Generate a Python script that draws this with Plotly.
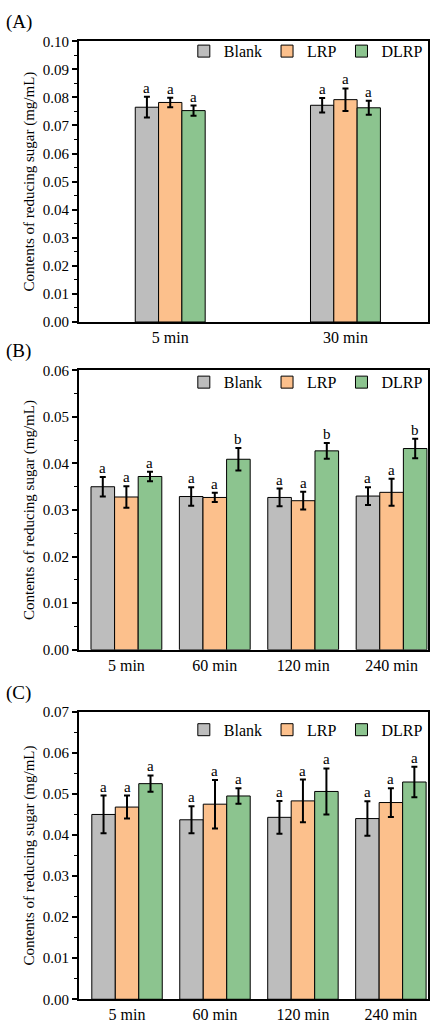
import plotly.graph_objects as go

groups = ["Blank", "LRP", "DLRP"]
colors = ["#bdbdbd", "#fcc08c", "#8cc48f"]

# (A)
times_a = ["5 min", "30 min"]
blank_a = [0.0765, 0.0772]
blank_a_err = [0.0037, 0.0026]
lrp_a = [0.0782, 0.0792]
lrp_a_err = [0.0017, 0.0040]
dlrp_a = [0.0753, 0.0763]
dlrp_a_err = [0.0018, 0.0025]
letters_a = [["a", "a"], ["a", "a"], ["a", "a"]]

# (B)
times_b = ["5 min", "60 min", "120 min", "240 min"]
blank_b = [0.0350, 0.0329, 0.0327, 0.0330]
blank_b_err = [0.0021, 0.0020, 0.0019, 0.0019]
lrp_b = [0.0328, 0.0327, 0.0320, 0.0338]
lrp_b_err = [0.0023, 0.0010, 0.0019, 0.0029]
dlrp_b = [0.0372, 0.0409, 0.0427, 0.0432]
dlrp_b_err = [0.0010, 0.0024, 0.0017, 0.0021]
letters_b = [["a", "a", "a", "a"], ["a", "a", "a", "a"], ["a", "b", "b", "b"]]

# (C)
times_c = ["5 min", "60 min", "120 min", "240 min"]
blank_c = [0.0450, 0.0437, 0.0443, 0.0440]
blank_c_err = [0.0046, 0.0033, 0.0040, 0.0042]
lrp_c = [0.0468, 0.0475, 0.0483, 0.0479]
lrp_c_err = [0.0028, 0.0059, 0.0052, 0.0035]
dlrp_c = [0.0525, 0.0495, 0.0506, 0.0529]
dlrp_c_err = [0.0020, 0.0019, 0.0056, 0.0037]
letters_c = [["a", "a", "a", "a"], ["a", "a", "a", "a"], ["a", "a", "a", "a"]]

FONT = "Liberation Serif"

panels = [
    dict(label="(A)", times=times_a, vals=[blank_a, lrp_a, dlrp_a],
         errs=[blank_a_err, lrp_a_err, dlrp_a_err], letters=letters_a,
         ymax=0.10, xr=[-0.52, 1.47], w=0.133, dom=[0.6885, 0.967], legy=0.007),
    dict(label="(B)", times=times_b, vals=[blank_b, lrp_b, dlrp_b],
         errs=[blank_b_err, lrp_b_err, dlrp_b_err], letters=letters_b,
         ymax=0.06, xr=[-0.535, 3.41], w=0.267, dom=[0.3633, 0.6406], legy=0.005),
    dict(label="(C)", times=times_c, vals=[blank_c, lrp_c, dlrp_c],
         errs=[blank_c_err, lrp_c_err, dlrp_c_err], letters=letters_c,
         ymax=0.07, xr=[-0.545, 3.42], w=0.267, dom=[0.0166, 0.3018], legy=-0.001),
]

fig = go.Figure()
annotations = []
layout_axes = {}

for p_i, p in enumerate(panels):
    sfx = "" if p_i == 0 else str(p_i + 1)
    leg = "legend" if p_i == 0 else "legend" + str(p_i + 1)
    w = p["w"]
    for g_i, g in enumerate(groups):
        off = -1.5 * w + g_i * w
        fig.add_trace(go.Bar(
            x=p["times"], y=p["vals"][g_i], name=g,
            width=w, offset=off,
            marker=dict(color=colors[g_i], line=dict(color="black", width=1)),
            error_y=dict(type="data", array=p["errs"][g_i], color="black",
                         thickness=2, width=3),
            xaxis="x" + sfx, yaxis="y" + sfx, legend=leg,
        ))
        # significance letters above the error bars
        for c_i, (v, e) in enumerate(zip(p["vals"][g_i], p["errs"][g_i])):
            annotations.append(dict(
                x=c_i + off + w / 2, y=v + e, xref="x" + sfx, yref="y" + sfx,
                text=p["letters"][g_i][c_i], showarrow=False, yanchor="bottom",
                yshift=-1, font=dict(family=FONT, size=15, color="black"),
            ))
    annotations.append(dict(
        x=0.01, y=p["dom"][1] + 0.019, xref="paper", yref="paper",
        text=p["label"], showarrow=False, xanchor="left", yanchor="middle",
        font=dict(family=FONT, size=19, color="black"),
    ))
    layout_axes["xaxis" + sfx] = dict(
        domain=[0.181, 0.979], anchor="y" + sfx, range=p["xr"],
        showline=True, linecolor="black", linewidth=2, mirror=True,
        ticks="", showgrid=False, tickfont=dict(family=FONT, size=16, color="black"),
    )
    layout_axes["yaxis" + sfx] = dict(
        domain=p["dom"], anchor="x" + sfx, range=[0, p["ymax"]],
        dtick=0.01, tickformat=".2f", showline=True, linecolor="black",
        linewidth=2, mirror=True, ticks="outside", ticklen=5, tickwidth=1.5,
        tickcolor="black", showgrid=False, zeroline=False,
        minor=dict(dtick=0.005, ticks="outside", ticklen=3, tickwidth=1.2,
                   tickcolor="black", showgrid=False),
        tickfont=dict(family=FONT, size=15, color="black"),
        title=dict(text="Contents of reducing sugar (mg/mL)", standoff=5,
                   font=dict(family=FONT, size=15, color="black")),
    )
    layout_axes[leg] = dict(
        x=0.979, xanchor="right", y=p["dom"][1] + p["legy"], yanchor="top",
        orientation="h", bgcolor="rgba(0,0,0,0)",
        font=dict(family=FONT, size=16, color="black"),
        itemwidth=30, tracegroupgap=0,
    )

fig.update_layout(
    width=437, height=1024,
    margin=dict(l=0, r=0, t=0, b=0),
    paper_bgcolor="white", plot_bgcolor="white",
    barmode="overlay", annotations=annotations,
    font=dict(family=FONT, color="black"),
    **layout_axes,
)

# page body has a default margin, drop it so the figure fills the window
fig.write_html("out.html", config={"displayModeBar": False},
               post_script="document.body.style.margin='0';")
